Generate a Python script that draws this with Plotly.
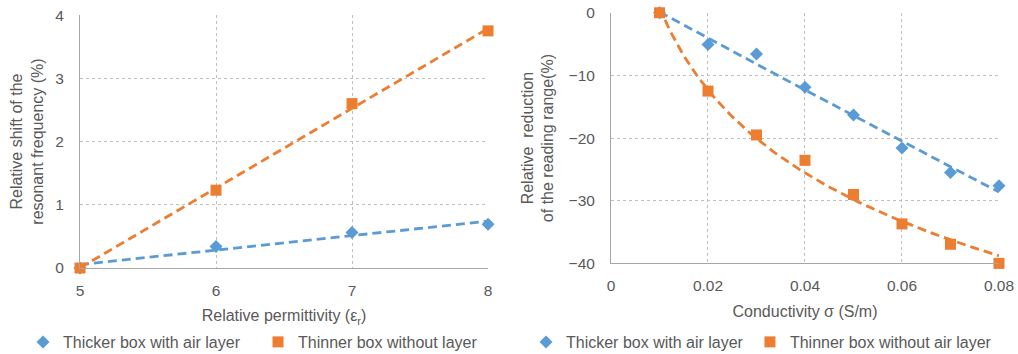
import numpy as np
import plotly.graph_objects as go

# ---- data ----
perm_x = [5, 6, 7, 8]
perm_thick = [0.0, 0.34, 0.56, 0.69]
perm_thin = [0.0, 1.23, 2.60, 3.75]

cond_x = [0.01, 0.02, 0.03, 0.04, 0.05, 0.06, 0.07, 0.08]
cond_thick = [0.0, -5.05, -6.6, -11.9, -16.3, -21.6, -25.5, -27.6]
cond_thin = [0.0, -12.5, -19.5, -23.55, -29.0, -33.7, -36.95, -40.0]

left_yticks = [0, 1, 2, 3, 4]
left_xticks = [5, 6, 7, 8]
right_yticks = [0, -10, -20, -30, -40]
right_xticks = [0, 0.02, 0.04, 0.06, 0.08]
right_xlabels = ["0", "0.02", "0.04", "0.06", "0.08"]

BLUE = "#5B9BD5"
ORANGE = "#ED7D31"
GRAY = "#595959"
FONT = "Liberation Sans"

# ---- trendlines (fits of the data, like Excel trendlines) ----
px = np.linspace(min(perm_x), max(perm_x), 50)
fit_pb = np.polyval(np.polyfit(perm_x, perm_thick, 1), px)
fit_po = np.polyval(np.polyfit(perm_x, perm_thin, 1), px)

cx = np.linspace(min(cond_x), max(cond_x), 120)
fit_cb = np.polyval(np.polyfit(cond_x, cond_thick, 2), cx)
lc = np.polyfit(np.log(cond_x), cond_thin, 1)
fit_co = lc[0] * np.log(cx) + lc[1]

DASH = "9px,5px"
fig = go.Figure()

# left chart
fig.add_trace(go.Scatter(x=px, y=fit_pb, mode="lines", showlegend=False,
                         line=dict(color=BLUE, width=2.8, dash=DASH),
                         xaxis="x", yaxis="y", hoverinfo="skip", cliponaxis=False))
fig.add_trace(go.Scatter(x=px, y=fit_po, mode="lines", showlegend=False,
                         line=dict(color=ORANGE, width=2.8, dash=DASH),
                         xaxis="x", yaxis="y", hoverinfo="skip", cliponaxis=False))
fig.add_trace(go.Scatter(x=perm_x, y=perm_thick, mode="markers",
                         name="Thicker box with air layer", cliponaxis=False,
                         marker=dict(symbol="diamond", size=10, color=BLUE),
                         xaxis="x", yaxis="y", legend="legend"))
fig.add_trace(go.Scatter(x=perm_x, y=perm_thin, mode="markers",
                         name="Thinner box without layer", cliponaxis=False,
                         marker=dict(symbol="square", size=11, color=ORANGE),
                         xaxis="x", yaxis="y", legend="legend2"))

# right chart
fig.add_trace(go.Scatter(x=cx, y=fit_cb, mode="lines", showlegend=False,
                         line=dict(color=BLUE, width=2.8, dash=DASH),
                         xaxis="x2", yaxis="y2", hoverinfo="skip", cliponaxis=False))
fig.add_trace(go.Scatter(x=cx, y=fit_co, mode="lines", showlegend=False,
                         line=dict(color=ORANGE, width=2.8, dash=DASH),
                         xaxis="x2", yaxis="y2", hoverinfo="skip", cliponaxis=False))
fig.add_trace(go.Scatter(x=cond_x, y=cond_thick, mode="markers",
                         name="Thicker box with air layer", cliponaxis=False,
                         marker=dict(symbol="diamond", size=10, color=BLUE),
                         xaxis="x2", yaxis="y2", legend="legend3"))
fig.add_trace(go.Scatter(x=cond_x, y=cond_thin, mode="markers",
                         name="Thinner box without air layer", cliponaxis=False,
                         marker=dict(symbol="square", size=11, color=ORANGE),
                         xaxis="x2", yaxis="y2", legend="legend4"))

axis_common = dict(showline=True, linecolor="#A6A6A6", linewidth=1,
                   showgrid=True, gridcolor="#BFBFBF", griddash="dot",
                   gridwidth=1, zeroline=False, ticks="", automargin=False,
                   tickfont=dict(size=15.5, color=GRAY, family=FONT),
                   mirror=False)
title_font = dict(size=16, color=GRAY, family=FONT)
legend_font = dict(size=16, color=GRAY, family=FONT)


def leg(xpos):
    return dict(orientation="h", x=xpos, y=-0.289, xanchor="left", yanchor="middle",
                font=legend_font, itemwidth=30, bgcolor="rgba(0,0,0,0)")


fig.update_layout(
    width=1018, height=354,
    margin=dict(l=80, r=19, t=12, b=86, autoexpand=False),
    paper_bgcolor="white", plot_bgcolor="white",
    font=dict(family=FONT, color=GRAY),
    xaxis=dict(domain=[0.0, 0.444], range=[5, 8], tickvals=left_xticks,
               ticklabelstandoff=8,
               title=dict(text="Relative permittivity (ε<sub>r</sub>)", font=title_font, standoff=12),
               anchor="y", **axis_common),
    yaxis=dict(domain=[0.0, 0.988], range=[0, 4], tickvals=left_yticks,
               ticklabelstandoff=12,
               title=dict(text="Relative shift of the<br>resonant frequency (%)", font=title_font, standoff=7),
               anchor="x", **axis_common),
    xaxis2=dict(domain=[0.5778, 1.0], range=[0, 0.08], tickvals=right_xticks,
                ticktext=right_xlabels, ticklabelstandoff=8,
                title=dict(text="Conductivity σ (S/m)", font=title_font, standoff=12),
                anchor="y2", **axis_common),
    yaxis2=dict(domain=[0.018, 0.997], range=[-40, 0], tickvals=right_yticks,
                ticklabelstandoff=12,
                title=dict(text="Relative  reduction<br>of the reading range(%)", font=title_font, standoff=10),
                anchor="x2", **axis_common),
    legend=leg(-0.062),
    legend2=leg(0.1937),
    legend3=leg(0.4853),
    legend4=leg(0.7290),
)

fig.write_html("out.html", config={"displayModeBar": False},
               post_script="document.body.style.margin='0';document.body.style.overflow='hidden';")
